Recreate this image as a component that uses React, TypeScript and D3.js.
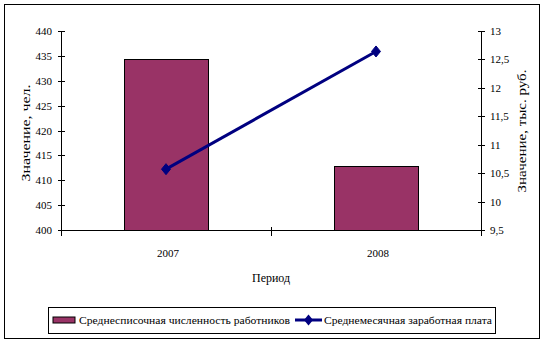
import React from "react";
import * as d3 from "d3";

const categories = ["2007", "2008"];
const headcount = [434.3, 412.8];
const salary = [10.57, 12.64];
const leftTicks = [400, 405, 410, 415, 420, 425, 430, 435, 440];
const rightTicks = [9.5, 10, 10.5, 11, 11.5, 12, 12.5, 13];
const seriesNames = ["Среднесписочная численность работников", "Среднемесячная заработная плата"];
const axisTitles = { left: "Значение, чел.", right: "Значение, тыс. руб.", bottom: "Период" };

const W = 544, H = 343;
const plot = { left: 61, right: 481, top: 31, bottom: 230 };
const font = "Liberation Serif, DejaVu Serif, Tinos, serif";
const barColor = "#993366";
const lineColor = "#000080";

export default function App() {
  const x = d3.scaleBand().domain(categories).range([plot.left, plot.right]).paddingInner(0).paddingOuter(0);
  const yL = d3.scaleLinear().domain([400, 440]).range([plot.bottom, plot.top]);
  const yR = d3.scaleLinear().domain([9.5, 13]).range([plot.bottom, plot.top]);
  const bw = x.bandwidth() * 0.4;
  const fmt = (v: number) => String(v).replace(".", ",");
  const linePath = d3.line<number>().x((_, i) => x(categories[i])! + x.bandwidth() / 2).y((d) => yR(d))(salary)!;
  const diamond = (cx: number, cy: number) => `M${cx},${cy - 5.5}L${cx + 4.5},${cy}L${cx},${cy + 5.5}L${cx - 4.5},${cy}Z`;
  const ts = { fontFamily: font, fontSize: "11px" };
  const tt = { fontFamily: font, fontSize: "12.5px" };

  return (
    <svg width={W} height={H} style={{ position: "absolute", left: 0, top: 0, display: "block" }}>
      <rect x={0} y={0} width={W} height={H} fill="#fff" />
      <rect x={4.5} y={4.5} width={535} height={334} fill="#fff" stroke="#000" strokeWidth={1} />
      {/* bars */}
      {categories.map((c, i) => (
        <rect key={c} x={x(c)! + x.bandwidth() / 2 - bw / 2 + 0.5} y={Math.round(yL(headcount[i])) + 0.5} width={bw} height={plot.bottom - Math.round(yL(headcount[i]))} fill={barColor} stroke="#000" strokeWidth={1} />
      ))}
      {/* axes */}
      <line x1={plot.left} x2={plot.right} y1={plot.bottom + 0.5} y2={plot.bottom + 0.5} stroke="#000" />
      <line x1={plot.left + 0.5} x2={plot.left + 0.5} y1={plot.top} y2={plot.bottom + 6} stroke="#000" />
      <line x1={plot.right + 0.5} x2={plot.right + 0.5} y1={plot.top} y2={plot.bottom + 6} stroke="#000" />
      {categories.slice(1).map((c) => (
        <line key={c} x1={x(c)! + 0.5} x2={x(c)! + 0.5} y1={plot.bottom - 3} y2={plot.bottom + 6} stroke="#000" />
      ))}
      {leftTicks.map((t) => (
        <g key={t}>
          <line x1={plot.left - 3} x2={plot.left + 4} y1={Math.round(yL(t)) + 0.5} y2={Math.round(yL(t)) + 0.5} stroke="#000" />
          <text x={plot.left - 9} y={yL(t) + 4} textAnchor="end" style={ts}>{t}</text>
        </g>
      ))}
      {rightTicks.map((t) => (
        <g key={t}>
          <line x1={plot.right - 3} x2={plot.right + 4} y1={Math.round(yR(t)) + 0.5} y2={Math.round(yR(t)) + 0.5} stroke="#000" />
          <text x={plot.right + 9} y={yR(t) + 4} textAnchor="start" style={ts}>{fmt(t)}</text>
        </g>
      ))}
      {categories.map((c) => (
        <text key={c} x={x(c)! + x.bandwidth() / 2 + 2} y={257} textAnchor="middle" style={ts}>{c}</text>
      ))}
      <text x={271} y={282} textAnchor="middle" style={tt} textLength={38} lengthAdjust="spacingAndGlyphs">{axisTitles.bottom}</text>
      <text transform={`translate(30,133) rotate(-90)`} textAnchor="middle" style={tt} textLength={97} lengthAdjust="spacingAndGlyphs">{axisTitles.left}</text>
      <text transform={`translate(526,131) rotate(-90)`} textAnchor="middle" style={tt} textLength={123} lengthAdjust="spacingAndGlyphs">{axisTitles.right}</text>
      {/* line series */}
      <path d={linePath} fill="none" stroke={lineColor} strokeWidth={3} />
      {salary.map((v, i) => (
        <path key={i} d={diamond(x(categories[i])! + x.bandwidth() / 2, yR(v))} fill={lineColor} stroke={lineColor} strokeWidth={1} />
      ))}
      {/* legend */}
      <rect x={48.5} y={307.5} width={447} height={26} fill="#fff" stroke="#000" />
      <rect x={53} y={317} width={22} height={6} fill={barColor} stroke="#000" strokeWidth={1} />
      <text x={79} y={324} style={ts} textLength={211} lengthAdjust="spacingAndGlyphs">{seriesNames[0]}</text>
      <line x1={295} x2={322} y1={320} y2={320} stroke={lineColor} strokeWidth={3} />
      <path d={diamond(308.5, 320)} fill={lineColor} />
      <text x={324} y={324} style={ts} textLength={168} lengthAdjust="spacingAndGlyphs">{seriesNames[1]}</text>
    </svg>
  );
}
